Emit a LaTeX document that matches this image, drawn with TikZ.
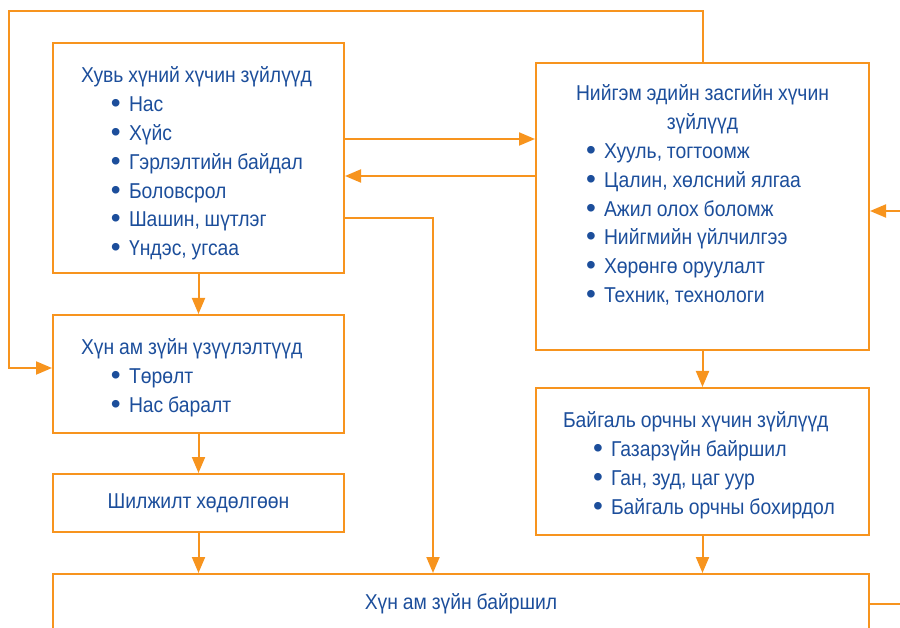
\documentclass[tikz,border=0pt]{standalone}
\usepackage{fontspec}
\setmainfont[FakeStretch=0.9, WordSpace=0.9]{Liberation Sans}
\usepackage{tikz}
\usetikzlibrary{calc, arrows.meta, positioning}
\definecolor{lineorange}{RGB}{247,148,30}
\definecolor{textblue}{RGB}{28,78,155}
\tikzset{
    x=1pt, y=-1pt,% one unit is one pixel of the page, y runs downwards
    box/.style = {draw=lineorange, line width=2pt, anchor=north west, inner ysep=24pt, inner xsep=28pt},
    link/.style = {draw=lineorange, line width=2pt, -{Triangle[length=16pt, width=13pt]}},
    wire/.style = {draw=lineorange, line width=2pt}
}
\newcommand{\bul}[1]{\hspace*{30pt}\makebox[18pt][l]{\raisebox{-1pt}{\scalebox{1.45}[1.3]{•}}}#1}% one bullet line

\begin{document}
\begin{tikzpicture}
                [every node/.style={font=\fontsize{21.5}{28.8}\selectfont, text=textblue}]
                \useasboundingbox (0,0) rectangle (900,628);
                \clip (0,0) rectangle (900,628);
                % left column
                \node [box] (indiv) at (52,42)
                    {\parbox[c][182pt][t]{235pt}{\raggedright Хувь хүний хүчин зүйлүүд\\ \bul{Нас}\\ \bul{Хүйс}\\
                     \bul{Гэрлэлтийн байдал}\\ \bul{Боловсрол}\\ \bul{Шашин, шүтлэг}\\ \bul{Үндэс, угсаа}}};
                \node [box] (demog) at (52,314)
                    {\parbox[c][70pt][t]{235pt}{\raggedright Хүн ам зүйн үзүүлэлтүүд\\ \bul{Төрөлт}\\ \bul{Нас баралт}}};
                \node [box, inner sep=0pt, minimum width=291pt, minimum height=58pt] (migr) at (52,473) {Шилжилт хөдөлгөөн};
                % right column
                \node [box, inner xsep=20pt, inner ysep=22pt] (social) at (535,62)
                    {\parbox[c][243pt][t]{293pt}{\centering Нийгэм эдийн засгийн хүчин\\ зүйлүүд\par
                     \raggedright\bul{Хууль, тогтоомж}\\ \bul{Цалин, хөлсний ялгаа}\\ \bul{Ажил олох боломж}\\
                     \bul{Нийгмийн үйлчилгээ}\\ \bul{Хөрөнгө оруулалт}\\ \bul{Техник, технологи}}};
                \node [box, inner xsep=27pt] (env) at (535,387)
                    {\parbox[c][99pt][t]{279pt}{\raggedright Байгаль орчны хүчин зүйлүүд\\ \bul{Газарзүйн байршил}\\
                     \bul{Ган, зуд, цаг уур}\\ \bul{Байгаль орчны бохирдол}}};
                % bottom
                \node [box, inner sep=0pt, minimum width=816pt, minimum height=60pt] (place) at (52,573) {Хүн ам зүйн байршил};
                % connectors
                \coordinate (loop) at (9,11);
                \coordinate (drop) at (433,218);
                \coordinate (rightin) at (910,211);
                \draw [link] (social.north) |- (loop) |- ([yshift=6pt]demog.west);
                \draw [link] ([yshift=19pt]indiv.east) -- ([yshift=19pt]indiv.east -| social.west);
                \draw [link] ([yshift=-18pt]indiv.east -| social.west) -- ([yshift=-18pt]indiv.east);
                \draw [link] (drop -| indiv.east) -| (drop |- place.north);
                \draw [link] (indiv) -- (demog);
                \draw [link] (demog) -- (migr);
                \draw [link] (migr.south) -- (migr.south |- place.north);
                \draw [link] (social) -- (env);
                \draw [link] (env.south) -- (env.south |- place.north);
                \draw [link] (rightin) -- (rightin -| social.east);
                \draw [wire] (place.east) -- ++(50,0);
            \end{tikzpicture}
\end{document}
